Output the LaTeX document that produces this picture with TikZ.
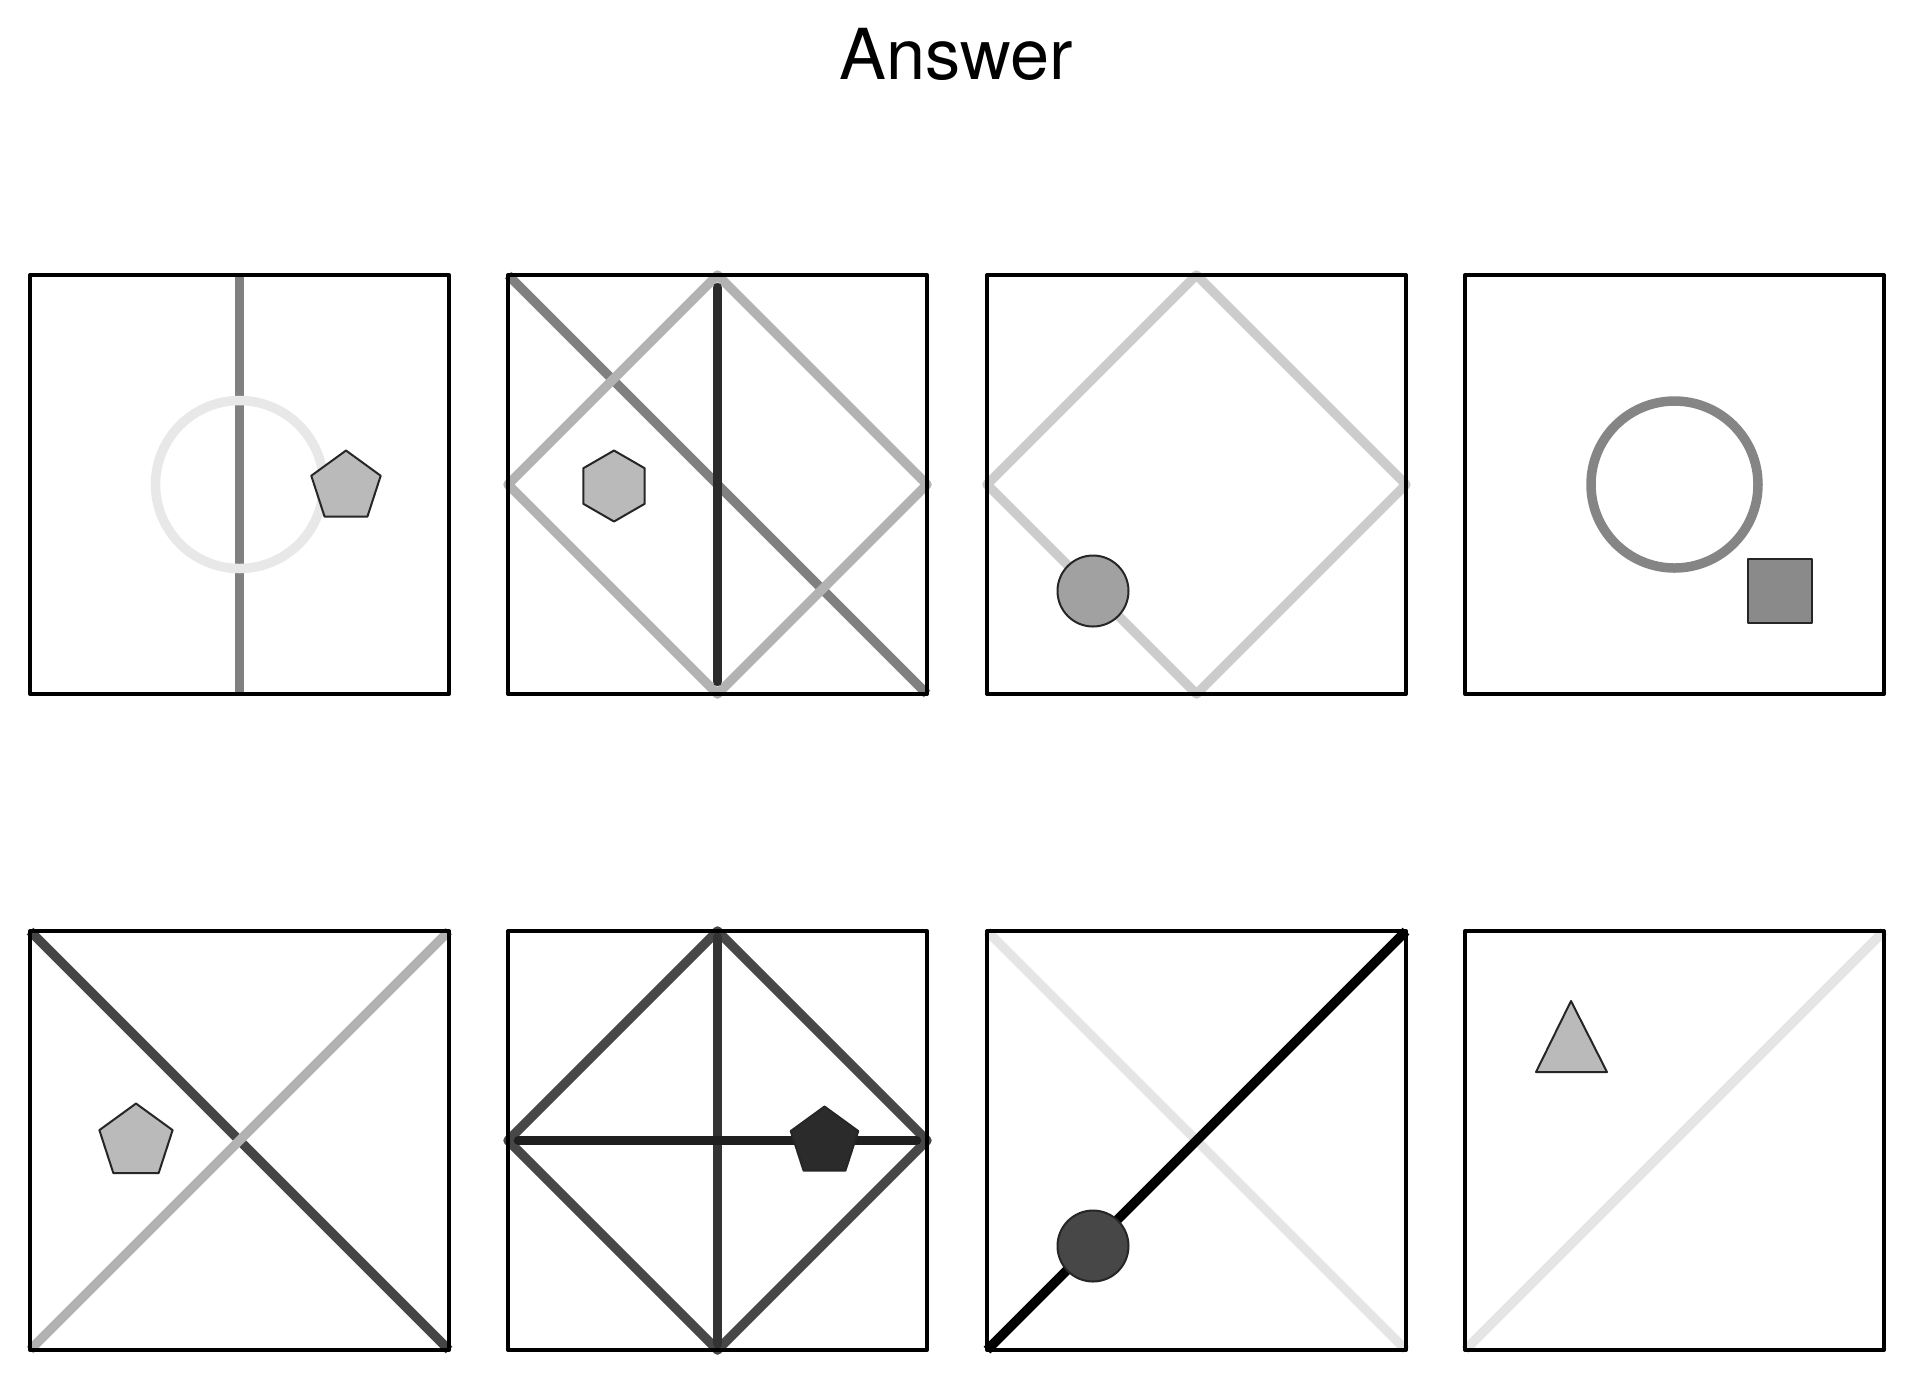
\documentclass[tikz,border=0pt]{standalone}
\usepackage{fontspec}
\setmainfont{TeX Gyre Heros}
\usetikzlibrary{calc,shapes.geometric}

\begin{document}
\begin{tikzpicture}[x=0.1mm, y=-0.1mm, line join=round,
  panel/.style={rectangle, minimum size=41.9mm, inner sep=0pt, outer sep=0pt},
  frame/.style={draw=black, line width=0.4mm},
  stroke/.style={line width=0.95mm},
  piece/.style={draw=black!85, line width=0.2mm, inner sep=0pt, outer sep=0pt}]
\useasboundingbox (0,0) rectangle (1914,1380);

\node[anchor=base, font=\fontsize{20}{24}\selectfont] (title) at (956,79) {Answer};

\node[panel] (p1) at (239.5,484.5) {};
\node[panel] (p2) at (717.5,484.5) {};
\node[panel] (p3) at (1196.5,484.5) {};
\node[panel] (p4) at (1674.5,484.5) {};
\node[panel] (p5) at (239.5,1140.5) {};
\node[panel] (p6) at (717.5,1140.5) {};
\node[panel] (p7) at (1196.5,1140.5) {};
\node[panel] (p8) at (1674.5,1140.5) {};

\draw[stroke, black!50] (p1.north) -- (p1.south);
\node[circle, draw=black!9, stroke, minimum size=16.8mm, inner sep=0pt] (ring1) at (p1.center) {};
\node[piece, regular polygon, regular polygon sides=5, minimum size=7.3mm, fill=black!27] (pent1) at (346,487) {};

\draw[stroke, black!50] (p2.north west) -- (p2.south east);
\draw[stroke, black!30] (p2.north) -- (p2.east) -- (p2.south) -- (p2.west) -- cycle;
\draw[stroke, black!83, line cap=round] ($(p2.north)!0.03!(p2.south)$) -- ($(p2.north)!0.97!(p2.south)$);
\node[piece, regular polygon, regular polygon sides=6, rotate=30, minimum size=7.1mm, fill=black!27] (hex2) at (614,486) {};

\draw[stroke, black!20] (p3.north) -- (p3.east) -- (p3.south) -- (p3.west) -- cycle;
\node[piece, circle, minimum size=7.1mm, fill=black!37] (dot3) at (1093,591) {};

\node[circle, draw=black!48, stroke, minimum size=16.7mm, inner sep=0pt] (ring4) at (p4.center) {};
\node[piece, rectangle, minimum size=6.4mm, fill=black!46] (sq4) at (1780,591) {};

\draw[stroke, black!73] (p5.north west) -- (p5.south east);
\draw[stroke, black!30] (p5.south west) -- (p5.north east);
\node[piece, regular polygon, regular polygon sides=5, minimum size=7.7mm, fill=black!27] (pent5) at (136,1142) {};

\draw[stroke, black!72] (p6.north) -- (p6.east) -- (p6.south) -- (p6.west) -- cycle;
\draw[stroke, black!80, line cap=round] ($(p6.north)!0.015!(p6.south)$) -- ($(p6.north)!0.985!(p6.south)$);
\draw[stroke, black!88, line cap=round] ($(p6.west)!0.025!(p6.east)$) -- ($(p6.west)!0.975!(p6.east)$);
\node[piece, regular polygon, regular polygon sides=5, minimum size=7.1mm, fill=black!83] (pent6) at (824.5,1142) {};

\draw[stroke, black!10] (p7.north west) -- (p7.south east);
\draw[stroke, black] (p7.south west) -- (p7.north east);
\node[piece, circle, minimum size=7.1mm, fill=black!72] (dot7) at (1093,1246) {};

\draw[stroke, black!10] (p8.south west) -- (p8.north east);
\draw[piece, fill=black!27] (1571,1001) -- (1607,1072) -- (1536,1072) -- cycle;

\foreach \i in {1,...,8}
  \draw[frame] (p\i.north west) rectangle (p\i.south east);

\end{tikzpicture}
\end{document}
